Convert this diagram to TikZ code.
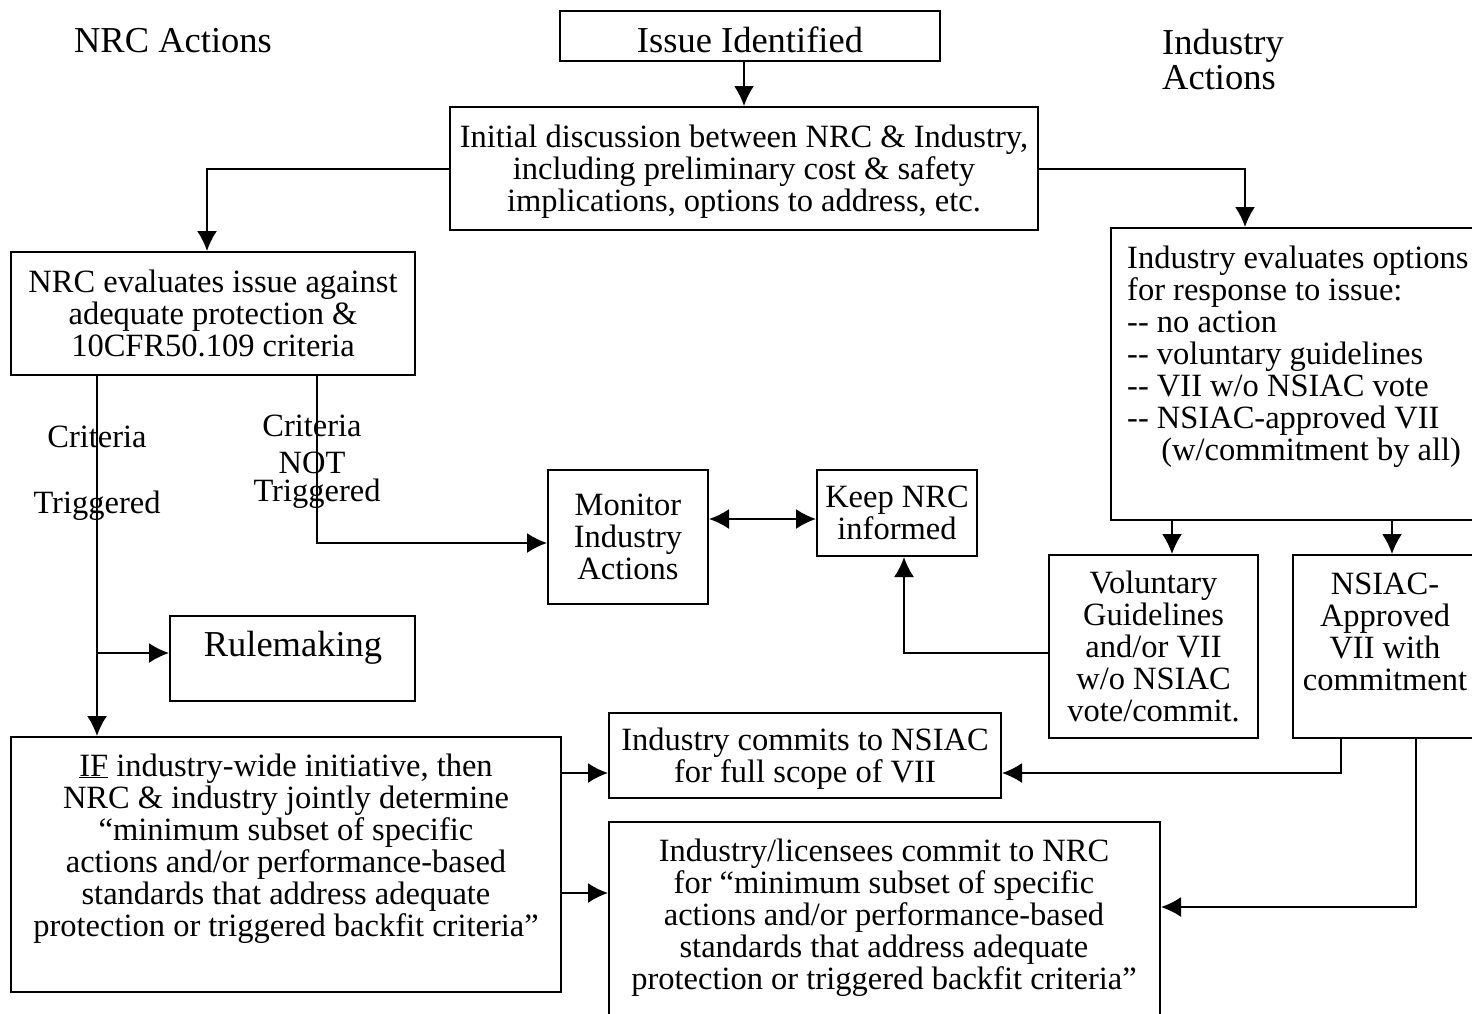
\documentclass[tikz,border=0pt]{standalone}
\usepackage{fontspec}
\setmainfont{Liberation Serif}
\usetikzlibrary{calc}
\usetikzlibrary{arrows.meta}
\usetikzlibrary{positioning}
\tikzset{>={Latex[length=20pt,width=20pt]}}
\tikzset{
  box/.style = {draw, line width=2pt, inner sep=0pt, align=center, text depth=0pt},
  txt/.style = {inner sep=0pt, align=center, text depth=0pt},
  head/.style = {inner sep=0pt, align=left, font=\fontsize{36.5}{35}\selectfont},
  link/.style = {line width=2pt},
}

\begin{document}
\begin{tikzpicture}[x=1pt, y=-1pt, font=\fontsize{32.5}{32}\selectfont]
\useasboundingbox (0,0) rectangle (1472,1013);
% headings
\node [head] (nrchead) at (173,41) {NRC Actions};
\node [head, anchor=west] (indhead) at (1162,60) {Industry\\Actions};
% boxes
\node [box, minimum width=380, minimum height=50, text height=32pt, font=\fontsize{36.5}{35}\selectfont] (issue) at (750,36) {Issue Identified};
\node [box, minimum width=588, minimum height=123] (disc) at (744,168.5) {Initial discussion between NRC \& Industry,\\including preliminary cost \& safety\\implications, options to address, etc.};
\node [box, minimum width=404, minimum height=123] (nrceval) at (213,313.5) {NRC evaluates issue against\\adequate protection \&\\10CFR50.109 criteria};
\node [box, minimum width=389, minimum height=292] (indeval) at (1305.5,374) {};
\node [txt, align=left, anchor=west] (indevaltxt) at (1127,353) {Industry evaluates options\\for response to issue:\\-{}- no action\\-{}- voluntary guidelines\\-{}- VII w/o NSIAC vote\\-{}- NSIAC-approved VII\\\hspace*{1.05em}(w/commitment by all)};
\node [box, minimum width=160, minimum height=134] (monitor) at (628,537) {Monitor\\Industry\\Actions};
\node [box, minimum width=160, minimum height=86] (keep) at (897,513) {Keep NRC\\informed};
\node [box, minimum width=245, minimum height=85] (rule) at (292.5,658.5) {};
\node [txt, font=\fontsize{36.5}{35}\selectfont] (ruletxt) at (293,644) {Rulemaking};
\node [box, minimum width=209, minimum height=183] (vol) at (1153.5,646.5) {Voluntary\\Guidelines\\and/or VII\\w/o NSIAC\\vote/commit.};
\node [box, minimum width=207, minimum height=183] (nsiac) at (1396.5,646.5) {};
\node [txt] (nsiactxt) at (1385,632) {NSIAC-\\Approved\\VII with\\commitment};
\node [box, minimum width=550, minimum height=255] (ifbox) at (286,864.5) {};
\node [txt] (iftxt) at (286,845) {\underline{IF} industry-wide initiative, then\\NRC \& industry jointly determine\\“minimum subset of specific\\actions and/or performance-based\\standards that address adequate\\protection or triggered backfit criteria”};
\node [box, minimum width=551, minimum height=208] (lic) at (884.5,926) {};
\node [txt] (lictxt) at (884,914) {Industry/licensees commit to NRC\\for “minimum subset of specific\\actions and/or performance-based\\standards that address adequate\\protection or triggered backfit criteria”};
\node [box, minimum width=392, minimum height=85] (comm) at (805,755.5) {Industry commits to NSIAC\\for full scope of VII};
% branch labels
\node [txt] (crit1) at (97,437) {Criteria};
\node [txt] (trig1) at (97,502) {Triggered};
\node [txt] (crit2) at (312,426) {Criteria};
\node [txt] (not2) at (312,463) {NOT};
\node [txt] (trig2) at (317,490) {Triggered};
% connectors
\draw [link, ->] (issue.south -| disc.north) -- (disc.north);
\draw [link, ->] (disc.west) -| ([xshift=-6pt]nrceval.north);
\draw [link, ->] (disc.east) -| ([xshift=-60.5pt]indeval.north);
\draw [link, ->] ([xshift=-116pt]nrceval.south) -- ([xshift=-189pt]ifbox.north);
\draw [link, ->] ([xshift=-116pt,yshift=5.5pt]nrceval.south |- rule.west) -- ([yshift=5.5pt]rule.west);
\draw [link, ->] ([xshift=104pt]nrceval.south) |- ([yshift=-6pt]monitor.west);
\draw [link, <->] ([yshift=-6pt]keep.west -| monitor.east) -- ([yshift=-6pt]keep.west);
\draw [link, ->] ([xshift=18.5pt]vol.north |- indeval.south) -- ([xshift=18.5pt]vol.north);
\draw [link, ->] ([xshift=-4.5pt]nsiac.north |- indeval.south) -- ([xshift=-4.5pt]nsiac.north);
\draw [link, ->] ([yshift=-6.5pt]vol.west) -| ([xshift=7pt]keep.south);
\draw [link, ->] ([yshift=-17.5pt]comm.west -| ifbox.east) -- ([yshift=-17.5pt]comm.west);
\draw [link, ->] ([yshift=33pt]lic.west -| ifbox.east) -- ([yshift=33pt]lic.west);
\draw [link, ->] ([xshift=-55.5pt]nsiac.south) |- ([yshift=-17.5pt]comm.east);
\draw [link, ->] ([xshift=19.5pt]nsiac.south) |- ([yshift=19pt]lic.east);
\end{tikzpicture}
\end{document}
